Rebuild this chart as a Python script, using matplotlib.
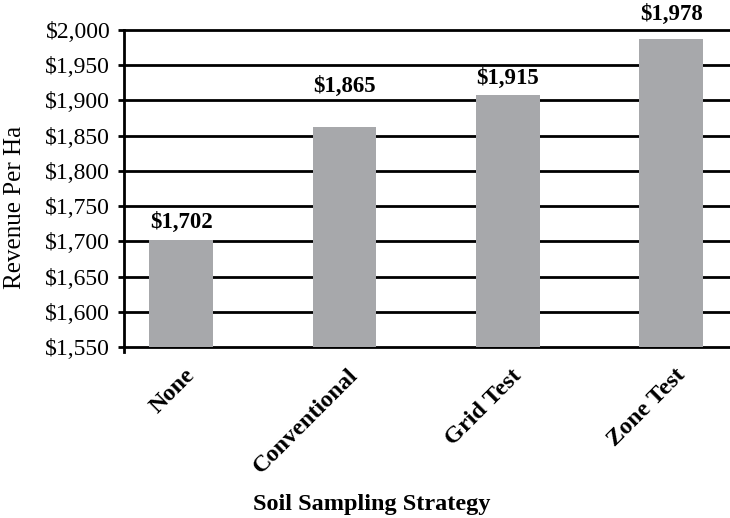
import numpy as np
import matplotlib.pyplot as plt
from matplotlib.ticker import FuncFormatter

# data
strategies = ['None', 'Conventional', 'Grid Test', 'Zone Test']
bar_heights = [1702, 1862, 1908, 1987]
bar_labels = ['$1,702', '$1,865', '$1,915', '$1,978']
yticks = np.arange(1550, 2001, 50)

plt.rcParams['font.family'] = ['Liberation Serif', 'DejaVu Serif']

fig = plt.figure(figsize=(7.3, 5.18), dpi=100)
ax = fig.add_axes([0.170, 0.330, 0.830, 0.612])

x = np.arange(len(strategies))
ax.bar(x, bar_heights, width=0.39, color='#a7a8ab', zorder=3)

# labels above bars (gap in points, as in the original)
label_pad = [5, 22, 4, 10]
for xi, h, lab, pad in zip(x, bar_heights, bar_labels, label_pad):
    ax.annotate(lab, (xi, h), xytext=(0, pad), textcoords='offset points',
                ha='center', va='bottom', fontsize=16.5, fontweight='bold')

ax.set_xlim(-0.35, 3.36)
ax.set_ylim(1550, 2000)
ax.set_yticks(yticks)
ax.yaxis.set_major_formatter(FuncFormatter(lambda v, p: '${:,.0f}'.format(v)))
ax.tick_params(axis='y', labelsize=17, length=4, width=2, pad=6, colors='black')

ax.set_xticks(x + 0.02)
ax.set_xticklabels(strategies, rotation=45, ha='right', rotation_mode='anchor',
                   fontsize=17.5, fontweight='bold')
ax.tick_params(axis='x', length=0, pad=13)

ax.yaxis.grid(True, color='black', linewidth=2)
ax.set_axisbelow(True)
for gl in ax.get_ygridlines():
    gl.set_clip_on(False)

for s in ['top', 'right', 'bottom']:
    ax.spines[s].set_visible(False)
ax.spines['left'].set_linewidth(2)
ax.spines['left'].set_bounds(1543, 2000)

fig.text(15 / 730, 1 - 207 / 518, 'Revenue Per Ha', rotation=90, ha='center',
         va='center', fontsize=18)
fig.text(372 / 730, 1 - 510 / 518, 'Soil Sampling Strategy', ha='center',
         va='baseline', fontsize=17.5, fontweight='bold')

fig.savefig('out.png', dpi=100)
